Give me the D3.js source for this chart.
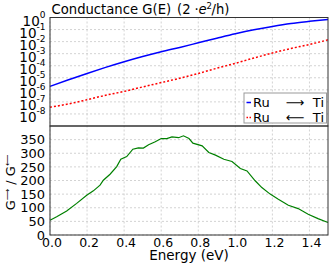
<!DOCTYPE html>
<html><head><meta charset="utf-8">
<script src="https://cdn.jsdelivr.net/npm/d3@7"></script>
<style>
body{margin:0;background:#fff}
svg{display:block}
text{font-family:"DejaVu Sans",sans-serif;fill:#000}
</style>
</head><body>
<svg id="c" width="331" height="274"></svg>
<script>
// Energy grid (eV) for the conductance curves
const energy = [0,0.1,0.2,0.3,0.4,0.5,0.6,0.7,0.8,0.9,1.0,1.1,1.2,1.3,1.4,1.5];
// log10 of G(E) in units of 2e^2/h
const logGForward  = [-5.71,-5.17,-4.64,-4.14,-3.67,-3.24,-2.84,-2.48,-2.10,-1.72,-1.35,-1.02,-0.74,-0.50,-0.32,-0.16];
const logGBackward = [-7.44,-7.17,-6.82,-6.45,-6.13,-5.76,-5.40,-5.04,-4.64,-4.21,-3.80,-3.36,-2.95,-2.57,-2.24,-1.85];
// Ratio G-> / G<-
const ratioEnergy = [0,0.036,0.09,0.144,0.198,0.234,0.27,0.288,0.324,0.36,0.382,0.414,0.447,0.477,0.504,0.532,0.568,0.6,0.63,0.658,0.694,0.72,0.75,0.771,0.821,0.857,0.893,0.938,0.982,1.027,1.063,1.107,1.143,1.188,1.232,1.286,1.339,1.393,1.446,1.5];
const ratioValue  = [54,67,88,116,146,162,183,201,223,251,278,288,315,320,319,331,342,354,354,360,357,364,354,337,327,303,293,278,270,244,235,199,174,150,131,109,97,76,60,46];
// Tick values
const xTicks = [0,0.2,0.4,0.6,0.8,1.0,1.2,1.4];
const topExponents = [0,-1,-2,-3,-4,-5,-6,-7,-8];
const bottomTicks = [0,50,100,150,200,250,300,350];
const legendLabels = [["Ru","⟶","Ti"],["Ru","⟵","Ti"]];

const svg = d3.select("#c");
const L=50, R=328, T=17.5, M=126, B=235;
const x = d3.scaleLinear().domain([0,1.5]).range([L,R]);
const yTop = d3.scaleLog().domain([1e-9,1]).range([M,T]);
const yBot = d3.scaleLinear().domain([0,400]).range([B,M]);

const gridStyle = s => s.attr("stroke","#c8c8c8").attr("stroke-width",0.8).attr("stroke-dasharray","2,2").attr("fill","none");

// Grids
const grid = svg.append("g");
xTicks.forEach(v=>{
  grid.append("line").attr("x1",x(v)).attr("x2",x(v)).attr("y1",T).attr("y2",B).call(gridStyle);
});
topExponents.forEach(e=>{
  grid.append("line").attr("x1",L).attr("x2",R).attr("y1",yTop(10**e)).attr("y2",yTop(10**e)).call(gridStyle);
});
bottomTicks.forEach(v=>{
  grid.append("line").attr("x1",L).attr("x2",R).attr("y1",yBot(v)).attr("y2",yBot(v)).call(gridStyle);
});

// Lines
const lineTop = d3.line().curve(d3.curveMonotoneX).x((d,i)=>x(energy[i])).y(d=>yTop(10**d));
svg.append("path").datum(logGForward).attr("d",lineTop).attr("fill","none").attr("stroke","#0000ff").attr("stroke-width",1.5);
svg.append("path").datum(logGBackward).attr("d",lineTop).attr("fill","none").attr("stroke","#ff0000").attr("stroke-width",1.5).attr("stroke-dasharray","2,2");
const lineBot = d3.line().x((d,i)=>x(ratioEnergy[i])).y(d=>yBot(d));
svg.append("path").datum(ratioValue).attr("d",lineBot).attr("fill","none").attr("stroke","#008000").attr("stroke-width",1.2);

// Frames
svg.append("rect").attr("x",L).attr("y",T).attr("width",R-L).attr("height",M-T).attr("fill","none").attr("stroke","#333").attr("stroke-width",1);
svg.append("rect").attr("x",L).attr("y",M).attr("width",R-L).attr("height",B-M).attr("fill","none").attr("stroke","#333").attr("stroke-width",1);

// Axes
const axTop = svg.append("g").attr("transform",`translate(${L},0)`)
  .call(d3.axisLeft(yTop).tickValues(topExponents.map(e=>10**e)).tickSize(0).tickPadding(4.5));
axTop.select(".domain").remove();
axTop.selectAll(".tick text").each(function(d){
  const e = Math.round(Math.log10(d));
  const t = d3.select(this).text(null).attr("dy",null).attr("y",7.5).attr("font-size",13.5).attr("font-family","DejaVu Sans");
  t.append("tspan").text("10");
  t.append("tspan").attr("dy",-8).attr("font-size",9).text(String(e));
});
const axBot = svg.append("g").attr("transform",`translate(${L},0)`)
  .call(d3.axisLeft(yBot).tickValues(bottomTicks).tickSize(0).tickPadding(5));
axBot.select(".domain").remove();
axBot.selectAll(".tick text").attr("font-size",13).attr("font-family","DejaVu Sans");
const axX = svg.append("g").attr("transform",`translate(1.5,${B})`)
  .call(d3.axisBottom(x).tickValues(xTicks).tickSize(0).tickPadding(3).tickFormat(d3.format(".1f")));
axX.select(".domain").remove();
axX.selectAll(".tick text").attr("font-size",12.5).attr("font-family","DejaVu Sans");

// Title
const title = svg.append("text").attr("y",13.5).attr("font-size",13.2);
title.append("tspan").attr("x",L+1.5).text("Conductance G(E)");
title.append("tspan").attr("x",177).text("(2");
title.append("tspan").attr("x",194.5).text("·");
title.append("tspan").attr("x",198.5).attr("font-style","italic").text("e");
title.append("tspan").attr("x",206.5).attr("dy",-5).attr("font-size",8.5).text("2");
title.append("tspan").attr("x",211.5).attr("dy",5).text("/h)");

// X label
svg.append("text").attr("x",(L+R)/2).attr("y",260).attr("text-anchor","middle").attr("font-size",13.5).text("Energy (eV)");

// Y label bottom
const yl = svg.append("text").attr("transform",`translate(15,${(M+B)/2+2}) rotate(-90)`).attr("text-anchor","middle").attr("font-size",13);
yl.append("tspan").text("G");
yl.append("tspan").attr("dy",-5).attr("font-size",8).text("⟶");
yl.append("tspan").attr("dy",5).text(" / G");
yl.append("tspan").attr("dy",-5).attr("font-size",8).text("⟵");

// Legend
const lg = svg.append("g");
lg.append("rect").attr("x",244).attr("y",93).attr("width",82.5).attr("height",30).attr("fill","#fff").attr("stroke","#999").attr("stroke-width",1);
const colors=["#0000ff","#ff0000"], dashes=[null,"1.5,1.5"];
legendLabels.forEach((lab,i)=>{
  const cy = 101.5+i*15;
  lg.append("line").attr("x1",246.5).attr("x2",251).attr("y1",cy+1).attr("y2",cy+1).attr("stroke",colors[i]).attr("stroke-width",1.5).attr("stroke-dasharray",dashes[i]);
  lg.append("text").attr("x",253).attr("y",cy+5).attr("font-size",13).text(lab[0]);
  lg.append("text").attr("x",295).attr("y",cy+5).attr("font-size",13).attr("text-anchor","middle").text(lab[1]);
  lg.append("text").attr("x",324).attr("y",cy+5).attr("font-size",13).attr("text-anchor","end").text(lab[2]);
});
</script>
</body></html>
